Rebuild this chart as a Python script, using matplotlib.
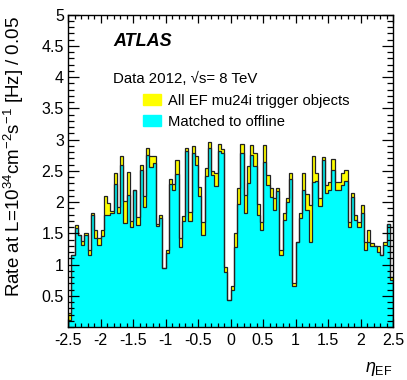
import numpy as np
import matplotlib
matplotlib.use('Agg')
import matplotlib.pyplot as plt
import matplotlib.patches as mpatches
from matplotlib.ticker import MultipleLocator

plt.rcParams['font.family'] = ['Liberation Sans', 'DejaVu Sans']
plt.rcParams['mathtext.fontset'] = 'custom'
plt.rcParams['mathtext.rm'] = 'Liberation Sans'
plt.rcParams['mathtext.it'] = 'Liberation Sans:italic'

# histogram range / bins (100 bins of 0.05 in eta)
eta_lo, eta_hi, n_bins = -2.5, 2.5, 100

# rate per bin, all EF mu24i trigger objects
all_ef = [0.22, 1.15, 1.64, 1.48, 1.37, 1.51, 1.24, 1.82, 1.55, 1.42,
          1.55, 2.10, 1.98, 1.85, 2.46, 1.92, 2.73, 2.02, 2.48, 1.70,
          2.19, 1.76, 2.60, 2.10, 2.87, 2.74, 2.73, 1.65, 1.79, 0.94,
          1.23, 2.37, 2.29, 2.68, 1.42, 1.78, 2.87, 1.84, 2.90, 2.74,
          2.24, 1.68, 2.55, 2.96, 2.50, 2.46, 2.93, 2.85, 0.96, 0.43,
          0.65, 1.51, 2.23, 2.93, 2.11, 2.57, 2.91, 2.78, 1.97, 1.68,
          2.91, 2.43, 2.22, 2.06, 2.22, 1.24, 1.83, 2.07, 2.46, 0.70,
          1.36, 1.82, 2.46, 2.13, 1.95, 2.73, 2.46, 2.06, 2.72, 2.27,
          2.32, 2.69, 2.32, 2.32, 2.46, 2.51, 1.68, 2.15, 1.79, 1.68,
          1.96, 1.36, 1.55, 1.34, 1.29, 1.29, 1.15, 1.36, 1.65, 0.80]

# rate per bin, matched to offline
matched = [0.12, 1.15, 1.59, 1.47, 1.32, 1.47, 1.15, 1.79, 1.43, 1.32,
           1.46, 1.80, 1.80, 1.82, 2.29, 1.83, 2.59, 1.66, 2.11, 1.60,
           2.19, 1.64, 2.51, 1.92, 2.75, 2.56, 2.63, 1.61, 1.74, 0.94,
           1.19, 2.29, 2.19, 2.45, 1.28, 1.70, 2.81, 1.70, 2.78, 2.60,
           2.09, 1.47, 2.41, 2.86, 2.43, 2.25, 2.82, 2.78, 0.88, 0.43,
           0.60, 1.28, 1.97, 2.78, 1.82, 2.30, 2.76, 2.58, 1.80, 1.55,
           2.64, 2.27, 2.08, 1.87, 2.18, 1.15, 1.72, 2.00, 2.37, 0.65,
           1.36, 1.74, 2.20, 1.88, 1.36, 2.32, 2.33, 1.93, 2.67, 2.14,
           2.19, 2.51, 2.19, 2.19, 2.27, 2.33, 1.60, 2.08, 1.71, 1.60,
           1.82, 1.23, 1.36, 1.29, 1.29, 1.20, 1.15, 1.31, 1.65, 0.76]

edges = np.linspace(eta_lo, eta_hi, n_bins + 1)

fig = plt.figure(figsize=(4.07, 3.80), dpi=100)
ax = fig.add_axes([68/407, 1 - 327/380, (393 - 68)/407, (327 - 14.7)/380])

ax.stairs(all_ef, edges, fill=True, facecolor='#ffff00', edgecolor='none')
ax.stairs(matched, edges, fill=True, facecolor='#00ffff', edgecolor='none')
ax.stairs(all_ef, edges, color='#222222', lw=0.9)
ax.stairs(matched, edges, color='#222222', lw=0.9)

ax.set_xlim(eta_lo, eta_hi)
ax.set_ylim(0, 5)

# ROOT/ATLAS style ticks
ax.xaxis.set_major_locator(MultipleLocator(0.5))
ax.xaxis.set_minor_locator(MultipleLocator(0.1))
ax.yaxis.set_major_locator(MultipleLocator(0.5))
ax.yaxis.set_minor_locator(MultipleLocator(0.1))
ax.tick_params(which='both', direction='in', top=True, right=True,
               labelsize=11.5, width=0.9, color='black')
ax.tick_params(axis='x', which='major', length=6, pad=4)
ax.tick_params(axis='x', which='minor', length=3)
ax.tick_params(axis='y', which='major', length=8, pad=3)
ax.tick_params(axis='y', which='minor', length=4)

ax.set_xticks(np.arange(-2.5, 2.51, 0.5))
ax.set_xticklabels(['-2.5', '-2', '-1.5', '-1', '-0.5', '0', '0.5', '1', '1.5', '2', '2.5'])
ax.set_yticks(np.arange(0.5, 5.01, 0.5))
ax.set_yticklabels(['0.5', '1', '1.5', '2', '2.5', '3', '3.5', '4', '4.5', '5'])
for sp in ax.spines.values():
    sp.set_linewidth(1.0)

fig.text(14/407, 1 - 16/380,
         r'Rate at L=10$^{34}$cm$^{-2}$s$^{-1}$ [Hz] / 0.05',
         rotation=90, ha='center', va='top', fontsize=13.5)
fig.text(393/407, 1 - 378/380, r'$\eta_{\mathrm{EF}}$', ha='right', va='bottom', fontsize=13)

ax.text(113/407, 1 - 46/380, 'ATLAS', transform=fig.transFigure,
        fontsize=13, fontweight='bold', fontstyle='italic')
ax.text(113/407, 1 - 83/380, 'Data 2012, \u221as= 8 TeV', transform=fig.transFigure,
        fontsize=10.8)

handles = [mpatches.Patch(color='#ffff00'), mpatches.Patch(color='#00ffff')]
ax.legend(handles, ['All EF mu24i trigger objects', 'Matched to offline'],
          loc='upper left', bbox_to_anchor=(140/407, 1 - 91/380),
          bbox_transform=fig.transFigure, frameon=False, fontsize=10.6,
          handlelength=1.25, handleheight=0.75, handletextpad=0.45,
          labelspacing=0.45, borderpad=0.2, borderaxespad=0)

fig.savefig('out.png', dpi=100)
